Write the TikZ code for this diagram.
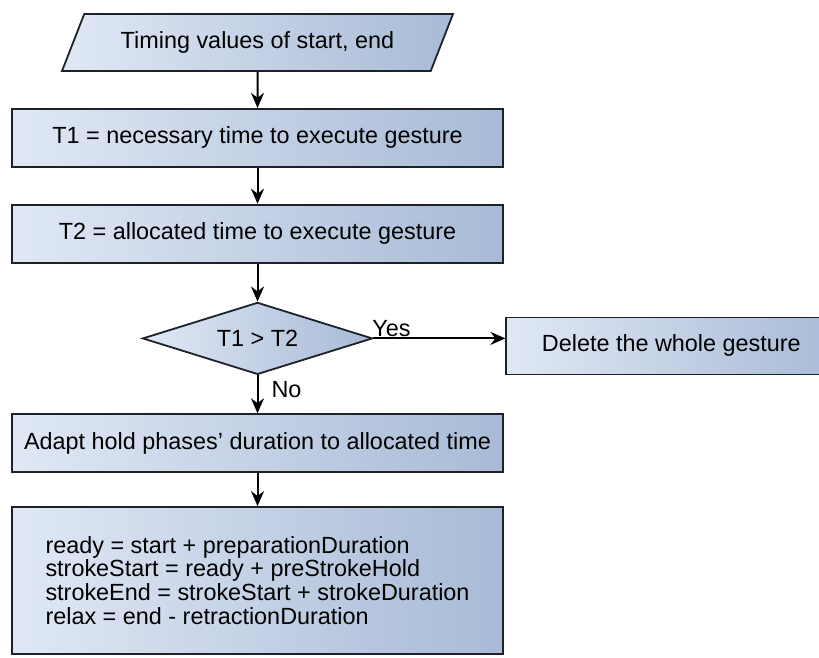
\documentclass[tikz,border=0pt]{standalone}
\usepackage{fontspec}
\setmainfont{Liberation Sans}
\usepackage{tikz}
\usetikzlibrary{positioning,arrows.meta,shapes.geometric}
\definecolor{FClight}{RGB}{224,232,245}
\definecolor{FCdark}{RGB}{168,186,214}
\definecolor{FCline}{RGB}{28,34,40}

\begin{document}
\begin{tikzpicture}[
  x=1pt,y=-1pt,
  node distance=36pt and 132pt,
  every node/.style={font=\fontsize{23.4}{23.8}\selectfont},
  box/.style={draw=FCline,line width=1.8pt,left color=FClight,right color=FCdark,align=center},
  io/.style={box,trapezium,trapezium left angle=52,trapezium right angle=128,trapezium stretches body,minimum width=391pt,minimum height=57pt},
  process/.style={box,rectangle,minimum width=491pt,minimum height=58pt},
  decision/.style={box,diamond,shape aspect=3.2,minimum width=230pt,minimum height=72pt,inner sep=0pt},
  arr/.style={-{Stealth[length=15pt,width=13pt]},line width=2pt,draw=black},
  lbl/.style={inner sep=1pt},
]
\useasboundingbox (0,0) rectangle (819,657);
\clip (0,0) rectangle (819,657);

% Eingabe
\node[io] (input) at (257.5,42.5) {Timing values of start, end};

% Zeiten
\node[process,below=of input] (tnec) {T1 = necessary time to execute gesture};
\node[process,below=of tnec] (talloc) {T2 = allocated time to execute gesture};

% Vergleich
\node[decision,below=38pt of talloc] (cmp) {T1 \textgreater{} T2};
\node[process,right=of cmp,yshift=-7.5pt,minimum width=330pt,minimum height=57pt] (del) {Delete the whole gesture};

% Anpassung
\node[process,below=38pt of cmp] (adapt) {Adapt hold phases' duration to allocated time};
\node[process,below=33pt of adapt,minimum height=147pt,align=left] (calc) {ready = start + preparationDuration\\
strokeStart = ready + preStrokeHold\\
strokeEnd = strokeStart + strokeDuration\\
relax = end - retractionDuration};

% Pfeile
\draw[arr] (input) -- (tnec);
\draw[arr] (tnec) -- (talloc);
\draw[arr] (talloc) -- (cmp);
\draw[arr] (cmp.east) -- node[lbl,pos=0,anchor=south west,xshift=-3pt]{Yes} (cmp.east -| del.west);
\draw[arr] (cmp) -- node[lbl,pos=0.37,anchor=west,xshift=12pt]{No} (adapt);
\draw[arr] (adapt) -- (calc);

\end{tikzpicture}
\end{document}
